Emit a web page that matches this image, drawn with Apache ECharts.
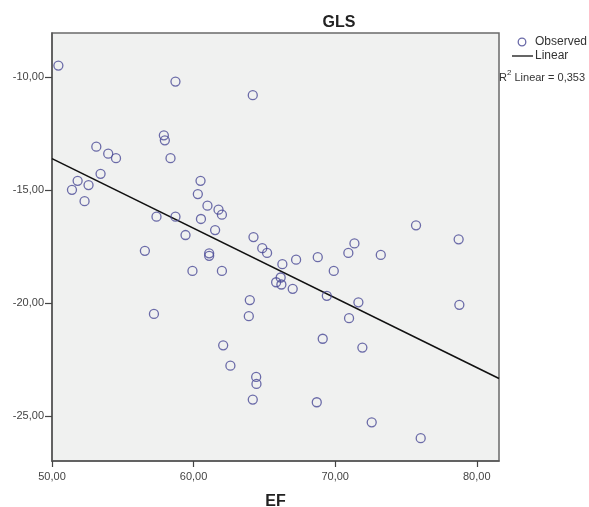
<!DOCTYPE html>
<html>
<head>
<meta charset="utf-8">
<script src="https://cdn.jsdelivr.net/npm/echarts@6/dist/echarts.min.js"></script>
<style>html,body{margin:0;padding:0;background:#fff}#c{width:589px;height:507px}</style>
</head>
<body>
<div id="c"></div>
<script>
// Observed points: EF (x) and GLS (y)
const efValues = [50.45,58.72,64.18,57.90,57.97,53.13,53.97,54.52,58.37,53.43,51.81,52.58,51.41,52.30,60.49,60.30,60.98,61.76,62.00,57.38,58.72,60.52,61.52,59.43,64.23,64.85,56.56,61.10,61.10,59.92,62.00,57.20,63.97,63.90,62.09,62.60,64.42,64.44,64.18,65.19,66.27,67.24,66.15,65.83,66.20,67.00,68.77,70.93,73.22,69.90,69.41,71.64,78.77,70.98,69.12,71.92,68.70,72.58,76.04,75.71,78.72,71.36];
const glsValues = [-9.50,-10.21,-10.81,-12.59,-12.81,-13.09,-13.40,-13.60,-13.60,-14.29,-14.60,-14.79,-15.00,-15.50,-14.60,-15.19,-15.70,-15.88,-16.10,-16.19,-16.19,-16.29,-16.78,-17.00,-17.09,-17.58,-17.70,-17.81,-17.92,-18.59,-18.59,-20.49,-19.88,-20.59,-21.88,-22.78,-23.28,-23.59,-24.28,-17.79,-18.29,-18.09,-18.88,-19.09,-19.19,-19.38,-17.98,-17.79,-17.88,-18.59,-19.69,-19.98,-20.09,-20.68,-21.59,-21.98,-24.40,-25.29,-25.99,-16.57,-17.19,-17.37];
// Linear fit line endpoints
const fitX = [50, 81.57];
const fitY = [-13.62, -23.35];
// Tick labels
const xTicks = [50, 60, 70, 80];
const yTicks = [-25, -20, -15, -10];
const titleText = 'GLS';
const xName = 'EF';
const r2Text = '0,353';

const fmt = v => v.toFixed(2).replace('.', ',');
const chart = echarts.init(document.getElementById('c'), null, {renderer: 'canvas'});
const FONT = 'Liberation Sans, Arial, sans-serif';
chart.setOption({
  animation: false,
  backgroundColor: '#ffffff',
  title: {
    text: titleText, left: 334, top: 10, textAlign: 'center',
    textStyle: {fontFamily: FONT, fontSize: 16, fontWeight: 'bold', color: '#222'}
  },
  grid: {
    left: 52, top: 33, right: 90, bottom: 46, show: true,
    outerBoundsMode: 'none', containLabel: false,
    backgroundColor: '#f0f1f0', borderColor: '#6a6a6a', borderWidth: 1.5
  },
  xAxis: {
    type: 'value', min: 50, max: 81.57, interval: 10,
    name: xName, nameLocation: 'middle', nameGap: 33,
    nameTextStyle: {fontFamily: FONT, fontSize: 16, fontWeight: 'bold', color: '#222'},
    axisLine: {show: true, onZero: false, lineStyle: {color: '#555', width: 1.5}},
    axisTick: {show: true, length: 6, lineStyle: {color: '#444', width: 1.2}, customValues: xTicks},
    axisLabel: {fontFamily: FONT, fontSize: 11, color: '#444', margin: 10, formatter: fmt, customValues: xTicks},
    splitLine: {show: false}
  },
  yAxis: {
    type: 'value', min: -27, max: -8.06,
    axisLine: {show: true, onZero: false, lineStyle: {color: '#555', width: 1.5}},
    axisTick: {show: true, length: 7, lineStyle: {color: '#444', width: 1.2}, customValues: yTicks},
    axisLabel: {fontFamily: FONT, fontSize: 11, color: '#444', margin: 8, formatter: fmt, customValues: yTicks},
    splitLine: {show: false}
  },
  series: [
    {
      type: 'scatter',
      data: efValues.map((x, i) => [x, glsValues[i]]),
      symbol: 'circle', symbolSize: 9,
      itemStyle: {color: 'rgba(0,0,0,0)', borderColor: '#4a4a96', borderWidth: 1.3},
      z: 3
    },
    {
      type: 'line',
      data: fitX.map((x, i) => [x, fitY[i]]),
      symbol: 'none',
      lineStyle: {color: '#111', width: 1.6},
      z: 2
    }
  ],
  graphic: [
    {type: 'circle', shape: {cx: 522, cy: 42, r: 3.8}, style: {fill: 'none', stroke: '#6a6aa8', lineWidth: 1.3}},
    {type: 'text', x: 535, y: 42, style: {text: 'Observed', fontFamily: FONT, fontSize: 12, fill: '#333', verticalAlign: 'middle'}},
    {type: 'line', shape: {x1: 512, y1: 56, x2: 533, y2: 56}, style: {stroke: '#111', lineWidth: 1.3}},
    {type: 'text', x: 535, y: 56, style: {text: 'Linear', fontFamily: FONT, fontSize: 12, fill: '#333', verticalAlign: 'middle'}},
    {type: 'text', x: 499, y: 76, style: {
      text: '{a|R}{s|2}{a| Linear = ' + r2Text + '}',
      verticalAlign: 'middle',
      rich: {
        a: {fontFamily: FONT, fontSize: 11, fill: '#333', verticalAlign: 'bottom', lineHeight: 14},
        s: {fontFamily: FONT, fontSize: 8, fill: '#333', verticalAlign: 'top', lineHeight: 14, padding: [0, 0, 5, 0]}
      }
    }}
  ]
});
</script>
</body>
</html>
